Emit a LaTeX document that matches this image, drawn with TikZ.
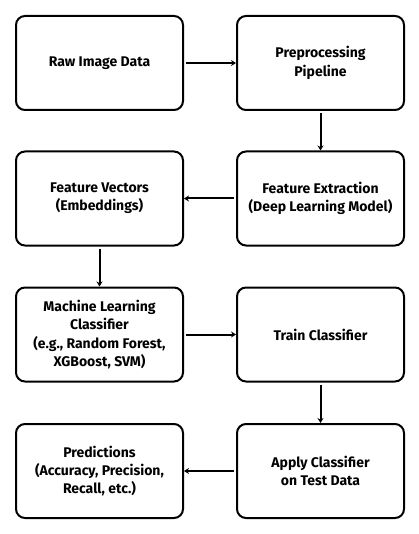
\documentclass[tikz,border=0pt]{standalone}
\usepackage{fontspec}
\setmainfont{Fira Sans}
\usetikzlibrary{arrows.meta}
\begin{document}
\begin{tikzpicture}[
		x=1pt,y=-1pt,
		flow/.style = {-{Stealth[length=5pt,width=6pt]}, line width=2pt, shorten <=2pt},
		stage/.style = {draw, line width=2pt, rounded corners=9pt, minimum width=167pt,
			minimum height=94pt, align=center, font=\bfseries\fontsize{14}{18.3}\selectfont}
	]
	\useasboundingbox (0,0) rectangle (419,534);
	\node (raw) [stage] at (99.5,63) {Raw Image Data};
	\node (prep) [stage] at (320.5,63) {Preprocessing\\Pipeline};
	\node (vec) [stage] at (99.5,198.5) {Feature Vectors\\(Embeddings)};
	\node (extr) [stage] at (320.5,198.5) {Feature Extraction\\(Deep Learning Model)};
	\node (clf) [stage] at (99.5,334.5) {Machine Learning\\Classifier\\(e.g., Random Forest,\\XGBoost, SVM)};
	\node (train) [stage] at (320.5,334.5) {Train Classifier};
	\node (pred) [stage] at (99.5,471) {Predictions\\(Accuracy, Precision,\\Recall, etc.)};
	\node (apply) [stage] at (320.5,471) {Apply Classifier\\on Test Data};

	\draw [flow] (raw) -- (prep);
	\draw [flow] (prep) -- (extr);
	\draw [flow] (extr) -- (vec);
	\draw [flow] (vec) -- (clf);
	\draw [flow] (clf) -- (train);
	\draw [flow] (train) -- (apply);
	\draw [flow] (apply) -- (pred);
\end{tikzpicture}
\end{document}
